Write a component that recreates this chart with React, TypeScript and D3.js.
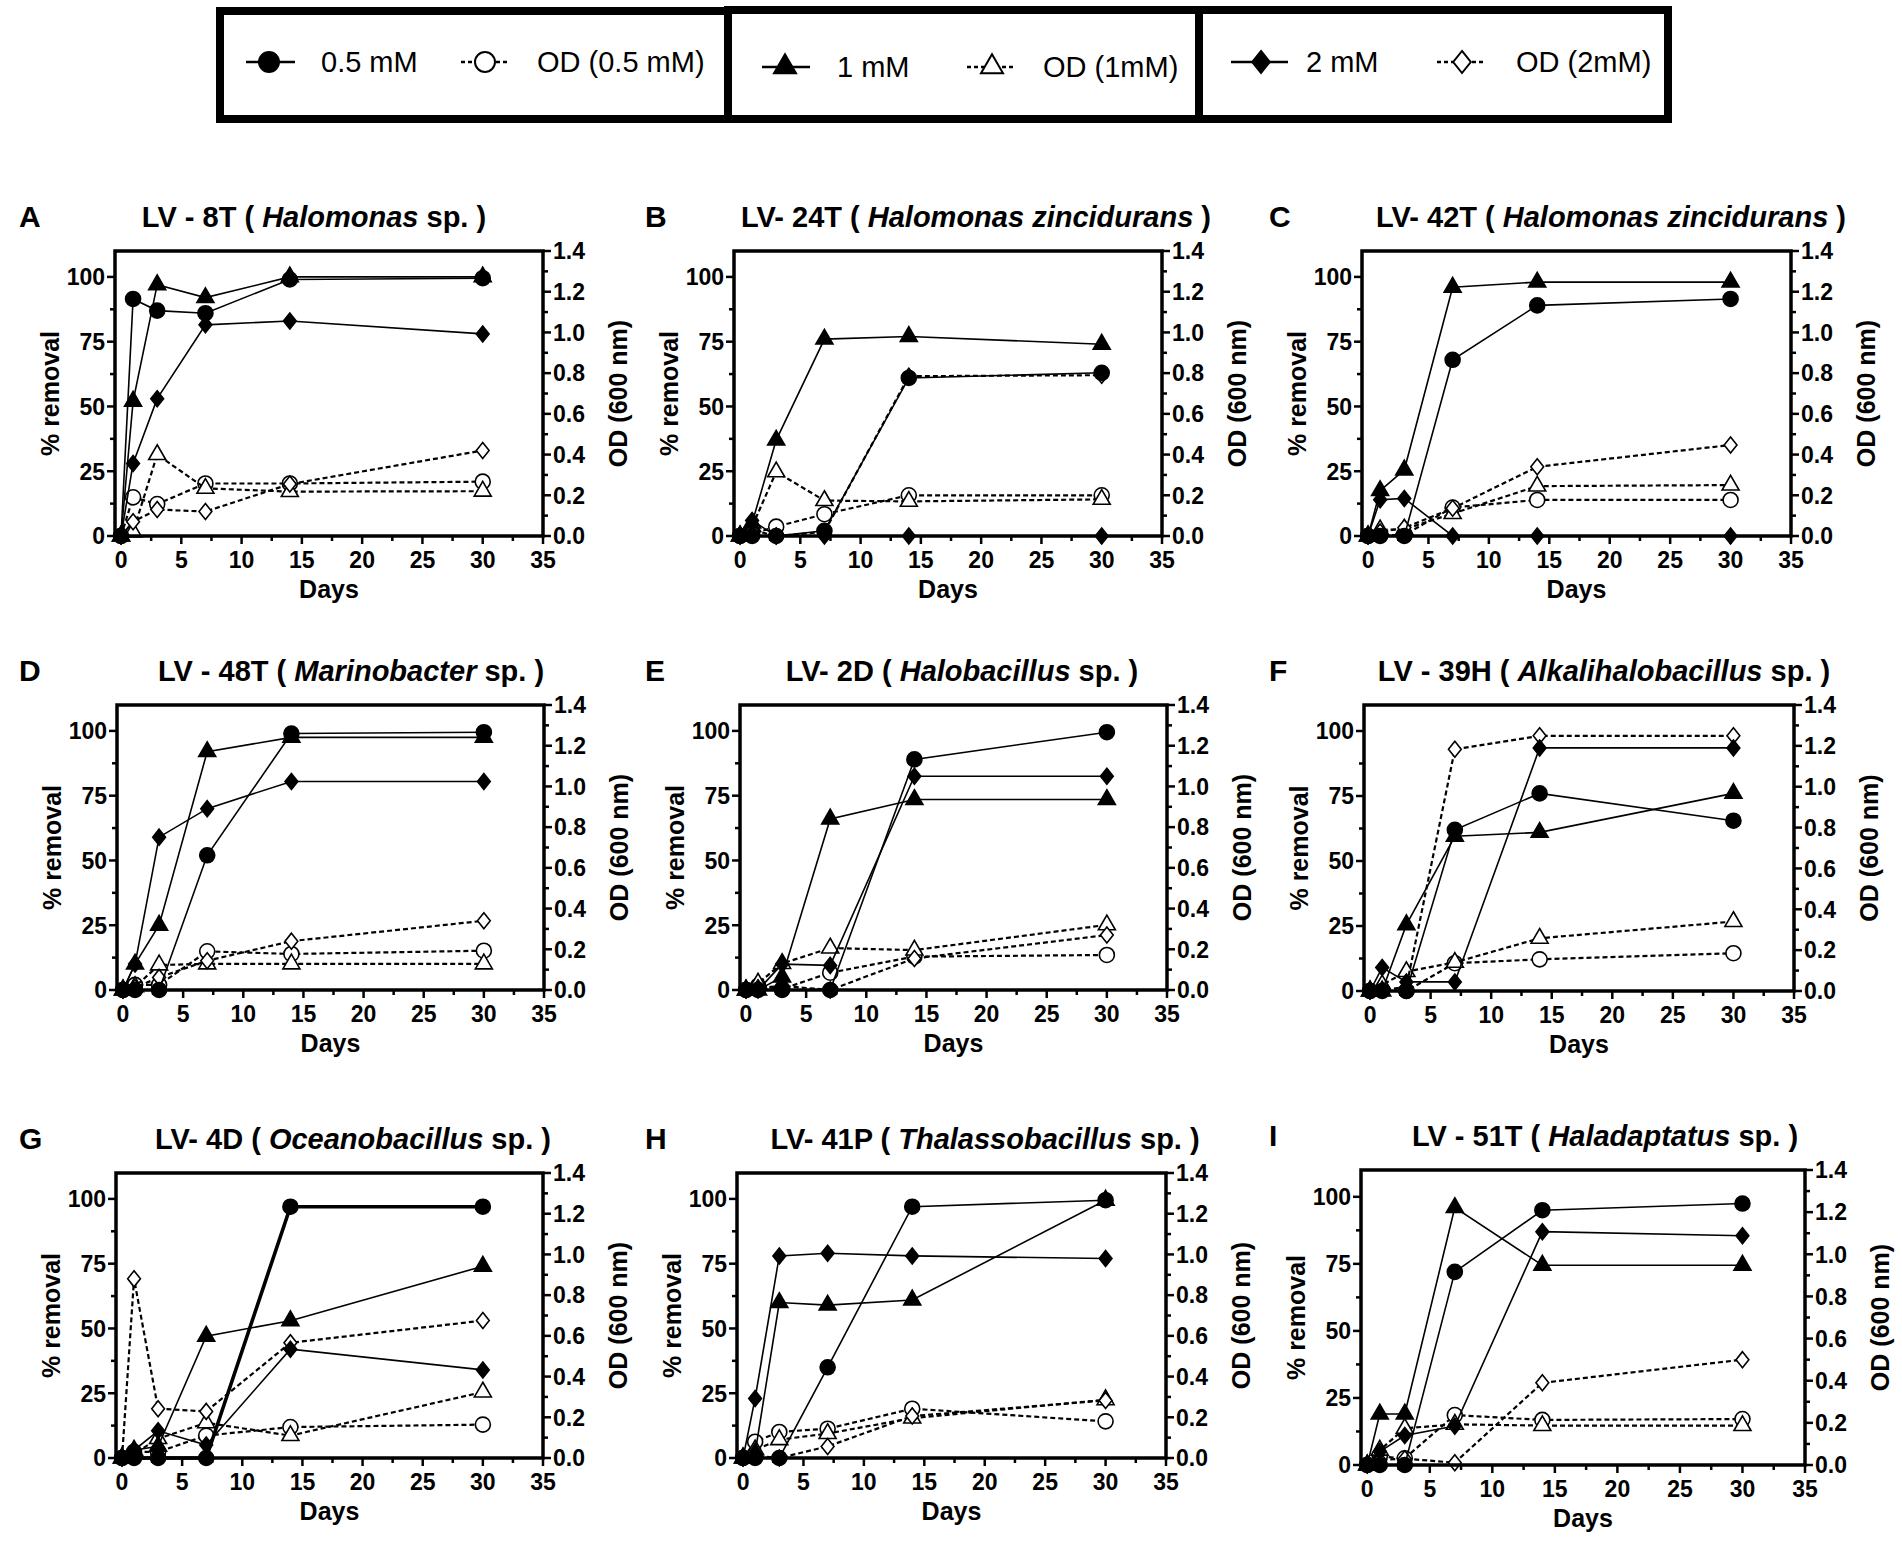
import * as d3 from 'd3'

// sampling days (x) shared by every panel
const days = [0, 1, 3, 7, 14, 30]

const panelLetters = ['A', 'B', 'C', 'D', 'E', 'F', 'G', 'H', 'I']
const strainLabels = ['LV - 8T', 'LV- 24T', 'LV- 42T', 'LV - 48T', 'LV- 2D', 'LV - 39H', 'LV- 4D', 'LV- 41P', 'LV - 51T']
const speciesLabels = [
  'Halomonas', 'Halomonas zincidurans', 'Halomonas zincidurans', 'Marinobacter', 'Halobacillus',
  'Alkalihalobacillus', 'Oceanobacillus', 'Thalassobacillus', 'Haladaptatus',
]
const speciesSuffix = [' sp. )', ' )', ' )', ' sp. )', ' sp. )', ' sp. )', ' sp. )', ' sp. )', ' sp. )']

// % removal, one row per panel (A..I)
const removal05 = [
  [0, 91.5, 87, 86, 99, 99.5],
  [0, 0, 0, 2, 61, 63],
  [0, 0, 0, 68, 89, 91.5],
  [0, 0, 0, 52, 99, 99.5],
  [0, 0, 0, 0, 89, 99.5],
  [0, 0, 0, 62, 76, 65.5],
  [0, 0, 0, 0, 97, 97],
  [0, 0, 0, 35, 97, 99.5],
  [0, 0, 0, 72, 95, 97.5],
]
const removal1 = [
  [0, 52, 97, 92, 100, 100],
  [0, 5, 37, 76, 77, 74],
  [0, 17.5, 25.5, 96, 98, 98],
  [0, 10, 25, 92, 97.5, 97.5],
  [0, 0, 5, 66, 73.5, 73.5],
  [0, 0, 25.5, 59.5, 61, 76],
  [0, 3, 4.5, 47, 53, 74],
  [0, 2, 60, 59, 61, 99.5],
  [0, 19, 19, 96, 74.5, 74.5],
]
const removal2 = [
  [0, 28, 53, 81.5, 83, 78],
  [0, 6, 0, 0, 0, 0],
  [0, 14, 14.5, 0, 0, 0],
  [0, 10, 59, 70, 80.5, 80.5],
  [0, 0, 10, 9.5, 82.5, 82.5],
  [0, 9, 3.5, 3.5, 93.5, 93.5],
  [0, 3, 10.5, 5, 42, 34],
  [0, 23, 78, 79, 78, 77],
  [0, 5, 11, 14.5, 87, 85.5],
]

// OD 600 nm (right axis)
const od05 = [
  [0, 0.19, 0.157, 0.258, 0.258, 0.267],
  [0, 0.01, 0.046, 0.107, 0.2, 0.2],
  [0, 0.005, 0.005, 0.14, 0.177, 0.177],
  [0, 0.025, 0.025, 0.19, 0.177, 0.193],
  [0, 0.02, 0.005, 0.085, 0.164, 0.172],
  [0, 0.005, 0, 0.136, 0.155, 0.185],
  [0, 0.03, 0.03, 0.11, 0.152, 0.164],
  [0, 0.08, 0.128, 0.144, 0.242, 0.18],
  [0, 0.04, 0.032, 0.237, 0.214, 0.218],
]
const od1 = [
  [0, 0.02, 0.4, 0.234, 0.218, 0.22],
  [0, 0.046, 0.315, 0.174, 0.17, 0.18],
  [0, 0.03, 0.033, 0.11, 0.245, 0.25],
  [0, 0.016, 0.123, 0.128, 0.128, 0.128],
  [0, 0.033, 0.13, 0.206, 0.196, 0.32],
  [0, 0.03, 0.095, 0.14, 0.258, 0.34],
  [0, 0.02, 0.095, 0.173, 0.11, 0.324],
  [0, 0.04, 0.09, 0.12, 0.196, 0.286],
  [0, 0.07, 0.174, 0.193, 0.187, 0.187],
]
const od2 = [
  [0, 0.07, 0.13, 0.12, 0.255, 0.42],
  [0, 0.03, 0, 0.02, 0.785, 0.79],
  [0, 0.02, 0.04, 0.136, 0.34, 0.447],
  [0, 0.011, 0.062, 0.144, 0.24, 0.34],
  [0, 0.01, 0.02, 0, 0.155, 0.27],
  [0, 0.005, 0.02, 1.183, 1.249, 1.249],
  [0, 0.88, 0.242, 0.229, 0.566, 0.675],
  [0, 0.01, 0, 0.057, 0.206, 0.283],
  [0, 0.024, 0.03, 0.011, 0.39, 0.5],
]

const removalTicks = [0, 25, 50, 75, 100]
const removalMinor = [12.5, 37.5, 62.5, 87.5]
const odTicks = [0, 0.2, 0.4, 0.6, 0.8, 1.0, 1.2, 1.4]
const odMinor = [0.1, 0.3, 0.5, 0.7, 0.9, 1.1, 1.3]
const dayTicks = [0, 5, 10, 15, 20, 25, 30, 35]
const dayMinor = [2.5, 7.5, 12.5, 17.5, 22.5, 27.5, 32.5]

const legendLabels = ['0.5 mM', 'OD (0.5 mM)', '1 mM', 'OD (1mM)', '2 mM', 'OD (2mM)']

// layout (pixels)
const W = 1902
const H = 1542
const FONT = '"Liberation Sans", Arial, sans-serif'
const boxes = [
  { l: 115, r: 543, t: 251, b: 536, tx: 314 },
  { l: 734, r: 1162, t: 251, b: 536, tx: 976 },
  { l: 1362, r: 1791, t: 251, b: 536, tx: 1611 },
  { l: 117, r: 544, t: 705, b: 990, tx: 351 },
  { l: 740, r: 1167, t: 705, b: 990, tx: 962 },
  { l: 1364, r: 1794, t: 705, b: 991, tx: 1604 },
  { l: 116, r: 543, t: 1173, b: 1458, tx: 353 },
  { l: 737, r: 1166, t: 1173, b: 1458, tx: 985 },
  { l: 1361, r: 1805, t: 1170, b: 1465, tx: 1605 },
]
const letterX = [19, 645, 1269]

type Shape = 'circle' | 'triangle' | 'diamond'

const diamondType = {
  draw(ctx: any, size: number) {
    const h = Math.sqrt(size) * 0.62
    const w = h * 0.8
    ctx.moveTo(0, -h)
    ctx.lineTo(w, 0)
    ctx.lineTo(0, h)
    ctx.lineTo(-w, 0)
    ctx.closePath()
  },
}

function markerPath(shape: Shape, big = false): string {
  if (shape === 'circle') return d3.symbol().type(d3.symbolCircle).size(big ? 314 : 177)() as string
  if (shape === 'triangle') return d3.symbol().type(d3.symbolTriangle).size(big ? 210 : 125)() as string
  return d3.symbol().type(diamondType as any).size(big ? 315 : 166)() as string
}

const seriesDefs = [
  { values: od05, od: true, shape: 'circle' as Shape },
  { values: od1, od: true, shape: 'triangle' as Shape },
  { values: od2, od: true, shape: 'diamond' as Shape },
  { values: removal2, od: false, shape: 'diamond' as Shape },
  { values: removal1, od: false, shape: 'triangle' as Shape },
  { values: removal05, od: false, shape: 'circle' as Shape },
]

function Panel({ i }: { i: number }) {
  const bx = boxes[i]
  const x = d3.scaleLinear().domain([-0.5, 35]).range([bx.l, bx.r])
  const yL = d3.scaleLinear().domain([0, 110]).range([bx.b, bx.t])
  const yR = d3.scaleLinear().domain([0, 1.4]).range([bx.b, bx.t])
  const midY = (bx.t + bx.b) / 2
  const tickFont = { fontFamily: FONT, fontWeight: 700, fontSize: 23 }

  return (
    <g>
      <text x={letterX[i % 3]} y={bx.t - 24} style={{ fontFamily: FONT, fontWeight: 700, fontSize: 30 }}>
        {panelLetters[i]}
      </text>
      <text x={bx.tx} y={bx.t - 24} textAnchor="middle"
        style={{ fontFamily: FONT, fontWeight: 700, fontSize: 29, whiteSpace: 'pre' }}>
        <tspan>{strainLabels[i] + ' ( '}</tspan>
        <tspan fontStyle="italic">{speciesLabels[i]}</tspan>
        <tspan>{speciesSuffix[i]}</tspan>
      </text>

      {/* series: OD dashed first, removal solid on top */}
      {seriesDefs.map((s, k) => {
        const vals = s.values[i]
        const yS = s.od ? yR : yL
        const line = d3.line<number>().x((_, j) => x(days[j])).y(v => yS(v))
        const thick = !s.od && s.shape === 'circle' && panelLetters[i] === 'G'
        return (
          <g key={k}>
            <path d={line(vals) ?? ''} fill="none" stroke="#000"
              strokeWidth={s.od ? 2.2 : thick ? 3.6 : 1.6}
              strokeDasharray={s.od ? '5,3' : undefined} />
            {vals.map((v, j) => (
              <path key={j} d={markerPath(s.shape)} transform={`translate(${x(days[j])},${yS(v)})`}
                fill={s.od ? '#fff' : '#000'} stroke="#000" strokeWidth={1.6} />
            ))}
          </g>
        )
      })}

      {/* frame */}
      <rect x={bx.l} y={bx.t} width={bx.r - bx.l} height={bx.b - bx.t} fill="none" stroke="#000" strokeWidth={3.5} />

      {/* left axis */}
      {removalTicks.map(v => (
        <g key={'l' + v}>
          <line x1={bx.l} x2={bx.l - 8} y1={yL(v)} y2={yL(v)} stroke="#000" strokeWidth={2.5} />
          <text x={bx.l - 10} y={yL(v)} dy="0.36em" textAnchor="end" style={tickFont}>{v}</text>
        </g>
      ))}
      {removalMinor.map(v => (
        <line key={'lm' + v} x1={bx.l} x2={bx.l - 5} y1={yL(v)} y2={yL(v)} stroke="#000" strokeWidth={2.5} />
      ))}

      {/* right axis */}
      {odTicks.map(v => (
        <g key={'r' + v}>
          <line x1={bx.r} x2={bx.r + 8} y1={yR(v)} y2={yR(v)} stroke="#000" strokeWidth={2.5} />
          <text x={bx.r + 10} y={yR(v)} dy="0.36em" style={tickFont}>{v.toFixed(1)}</text>
        </g>
      ))}
      {odMinor.map(v => (
        <line key={'rm' + v} x1={bx.r} x2={bx.r + 5} y1={yR(v)} y2={yR(v)} stroke="#000" strokeWidth={2.5} />
      ))}

      {/* bottom axis */}
      {dayTicks.map(v => (
        <g key={'b' + v}>
          <line x1={x(v)} x2={x(v)} y1={bx.b} y2={bx.b + 8} stroke="#000" strokeWidth={2.5} />
          <text x={x(v)} y={bx.b + 32} textAnchor="middle" style={tickFont}>{v}</text>
        </g>
      ))}
      {dayMinor.map(v => (
        <line key={'bm' + v} x1={x(v)} x2={x(v)} y1={bx.b} y2={bx.b + 5} stroke="#000" strokeWidth={2.5} />
      ))}

      <text x={(bx.l + bx.r) / 2} y={bx.b + 62} textAnchor="middle"
        style={{ fontFamily: FONT, fontWeight: 700, fontSize: 25 }}>Days</text>
      <text transform={`translate(${bx.l - 65},${midY}) rotate(-90)`} dy="0.35em" textAnchor="middle"
        style={{ fontFamily: FONT, fontWeight: 700, fontSize: 25, whiteSpace: 'pre' }}>% removal</text>
      <text transform={`translate(${bx.r + 75},${midY}) rotate(-90)`} dy="0.35em" textAnchor="middle"
        style={{ fontFamily: FONT, fontWeight: 700, fontSize: 25 }}>OD (600 nm)</text>
    </g>
  )
}

const legendBoxes = [
  { x: 220, y: 11, w: 508, h: 108 },
  { x: 728, y: 10, w: 471, h: 109 },
  { x: 1199, y: 10, w: 469, h: 109 },
]
const legendItems = [
  { x1: 246, x2: 295, mx: 269, tx: 321, y: 62, shape: 'circle' as Shape, od: false },
  { x1: 461, x2: 509, mx: 485, tx: 537, y: 62, shape: 'circle' as Shape, od: true },
  { x1: 762, x2: 810, mx: 785, tx: 837, y: 67, shape: 'triangle' as Shape, od: false },
  { x1: 967, x2: 1016, mx: 992, tx: 1043, y: 67, shape: 'triangle' as Shape, od: true },
  { x1: 1231, x2: 1288, mx: 1261, tx: 1306, y: 62, shape: 'diamond' as Shape, od: false },
  { x1: 1437, x2: 1486, mx: 1462, tx: 1516, y: 62, shape: 'diamond' as Shape, od: true },
]

export default function App() {
  return (
    <div style={{ position: 'absolute', left: 0, top: 0 }}>
      <svg width={W} height={H} viewBox={`0 0 ${W} ${H}`} style={{ display: 'block', background: '#fff' }}>
        <rect width={W} height={H} fill="#fff" />
        {legendBoxes.map((b, k) => (
          <rect key={k} x={b.x} y={b.y} width={b.w} height={b.h} fill="none" stroke="#000" strokeWidth={8} />
        ))}
        {legendItems.map((it, k) => (
          <g key={k}>
            <line x1={it.x1} x2={it.x2} y1={it.y} y2={it.y} stroke="#000" strokeWidth={2.5}
              strokeDasharray={it.od ? '4,3' : undefined} />
            <path d={markerPath(it.shape, true)} transform={`translate(${it.mx},${it.y})`}
              fill={it.od ? '#fff' : '#000'} stroke="#000" strokeWidth={2} />
            <text x={it.tx} y={it.y} dy="0.36em" style={{ fontFamily: FONT, fontSize: 29 }}>{legendLabels[k]}</text>
          </g>
        ))}
        {panelLetters.map((_, i) => <Panel key={i} i={i} />)}
      </svg>
    </div>
  )
}
